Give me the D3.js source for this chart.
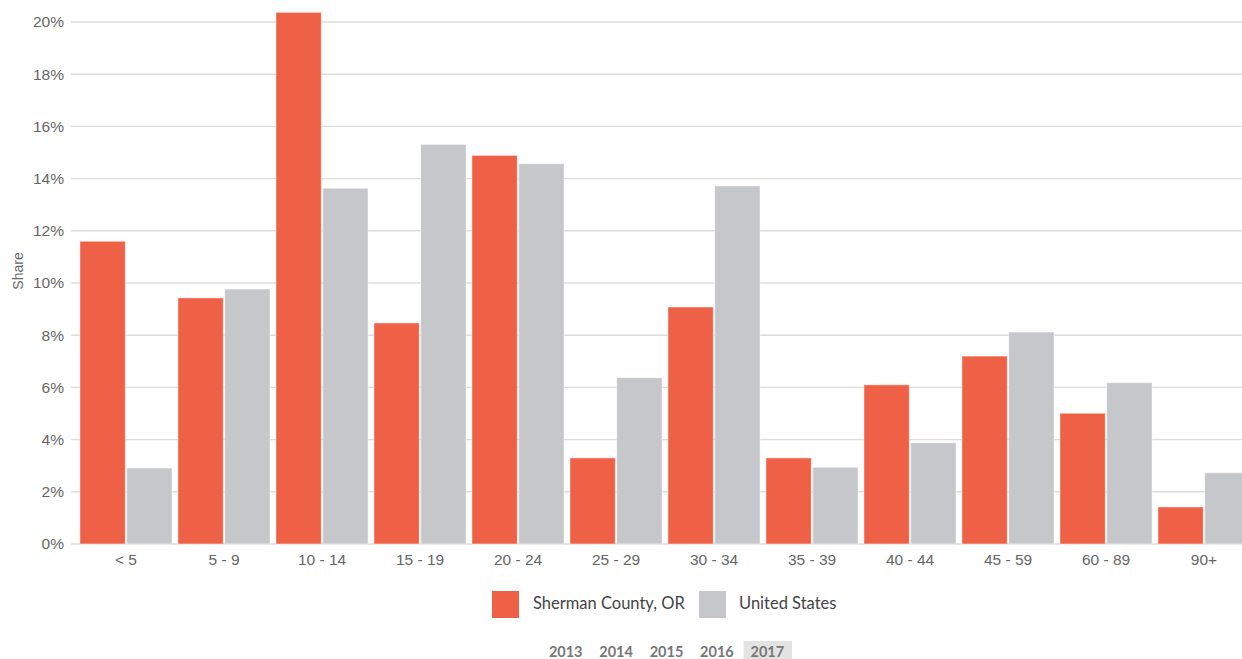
<!DOCTYPE html>
<html>
<head>
<meta charset="utf-8">
<script src="https://cdn.jsdelivr.net/npm/d3@7"></script>
<style>
  html, body { margin: 0; padding: 0; background: #fff; overflow: hidden; }
  svg { display: block; }
</style>
</head>
<body>
<svg id="chart" width="1242" height="659"></svg>
<script>
// Age group shares, 2017
const categories = ["< 5", "5 - 9", "10 - 14", "15 - 19", "20 - 24", "25 - 29",
                    "30 - 34", "35 - 39", "40 - 44", "45 - 59", "60 - 89", "90+"];
const seriesNames = ["Sherman County, OR", "United States"];
const shermanValues = [11.6, 9.43, 20.37, 8.47, 14.89, 3.3, 9.08, 3.3, 6.1, 7.2, 5.01, 1.42];
const usValues = [2.91, 9.77, 13.63, 15.31, 14.57, 6.37, 13.72, 2.94, 3.88, 8.12, 6.18, 2.73];
const yTicks = [0, 2, 4, 6, 8, 10, 12, 14, 16, 18, 20];
const years = ["2013", "2014", "2015", "2016", "2017"];
const activeYear = "2017";

const colors = ["#EE6146", "#C6C7CA"];
const axisFont = "'Liberation Sans', Arial, sans-serif";
const uiFont = "Lato, 'Open Sans', sans-serif";

const svg = d3.select("#chart");
const plot = { left: 77, right: 1253, top: 22, bottom: 544 };

const x = d3.scaleBand()
  .domain(categories)
  .range([plot.left, plot.right])
  .paddingInner(0.06)
  .paddingOuter(0.03);

const xs = d3.scaleBand()
  .domain(seriesNames)
  .range([0, x.bandwidth()])
  .paddingInner(0.03);

const y = d3.scaleLinear()
  .domain([0, 20])
  .range([plot.bottom, plot.top]);

// gridlines
svg.append("g")
  .selectAll("line")
  .data(yTicks)
  .join("line")
  .attr("x1", 71)
  .attr("x2", 1242)
  .attr("y1", d => y(d))
  .attr("y2", d => y(d))
  .attr("stroke", "#dcdcdc")
  .attr("stroke-width", 1.4);

// y axis labels
const yAxis = d3.axisLeft(y)
  .tickValues(yTicks)
  .tickFormat(d => d + "%")
  .tickSize(0)
  .tickPadding(0);

svg.append("g")
  .attr("transform", "translate(64,0)")
  .call(yAxis)
  .call(g => g.select(".domain").remove())
  .call(g => g.selectAll("text")
    .attr("font-family", axisFont)
    .attr("font-size", 15.5)
    .attr("fill", "#666"));

// y axis title
svg.append("text")
  .attr("transform", "translate(23,271) rotate(-90)")
  .attr("text-anchor", "middle")
  .attr("font-family", axisFont)
  .attr("font-size", 14)
  .attr("fill", "#666")
  .text("Share");

// bars
const rows = categories.map((c, i) => ({
  category: c,
  values: [
    { series: seriesNames[0], value: shermanValues[i], color: colors[0] },
    { series: seriesNames[1], value: usValues[i], color: colors[1] }
  ]
}));

const groups = svg.append("g")
  .selectAll("g")
  .data(rows)
  .join("g")
  .attr("transform", d => `translate(${x(d.category)},0)`);

groups.selectAll("rect")
  .data(d => d.values)
  .join("rect")
  .attr("x", d => xs(d.series))
  .attr("width", xs.bandwidth())
  .attr("y", d => y(d.value))
  .attr("height", d => y(0) - y(d.value))
  .attr("fill", d => d.color)
  .attr("stroke", "#ffffff")
  .attr("stroke-opacity", 0.5)
  .attr("stroke-width", 1);

// x axis labels
const xAxis = d3.axisBottom(x).tickSize(0).tickPadding(0);
svg.append("g")
  .attr("transform", `translate(0,${plot.bottom + 10})`)
  .call(xAxis)
  .call(g => g.select(".domain").remove())
  .call(g => g.selectAll("text")
    .attr("font-family", axisFont)
    .attr("font-size", 15.5)
    .attr("fill", "#666"));

// legend
const legendItems = [
  { name: seriesNames[0], color: colors[0], x: 492, tx: 533 },
  { name: seriesNames[1], color: colors[1], x: 699, tx: 739 }
];
const legend = svg.append("g");
legend.selectAll("rect")
  .data(legendItems)
  .join("rect")
  .attr("x", d => d.x)
  .attr("y", 591)
  .attr("width", 27)
  .attr("height", 27)
  .attr("fill", d => d.color);
legend.selectAll("text")
  .data(legendItems)
  .join("text")
  .attr("x", d => d.tx)
  .attr("y", 609)
  .attr("font-family", uiFont)
  .attr("font-size", 16.5)
  .attr("fill", "#444")
  .text(d => d.name);

// year selector
const yearX = d3.scaleBand()
  .domain(years)
  .range([540, 792])
  .padding(0);

const yearG = svg.append("g");
yearG.append("rect")
  .attr("x", yearX(activeYear) + 2)
  .attr("y", 641)
  .attr("width", yearX.bandwidth() - 2)
  .attr("height", 24)
  .attr("fill", "#e3e3e3");
yearG.selectAll("text")
  .data(years)
  .join("text")
  .attr("x", d => yearX(d) + yearX.bandwidth() / 2 + 0.5)
  .attr("y", 657)
  .attr("text-anchor", "middle")
  .attr("font-family", uiFont)
  .attr("font-size", 14.5)
  .attr("font-weight", "bold")
  .attr("fill", "#777")
  .text(d => d);
</script>
</body>
</html>
